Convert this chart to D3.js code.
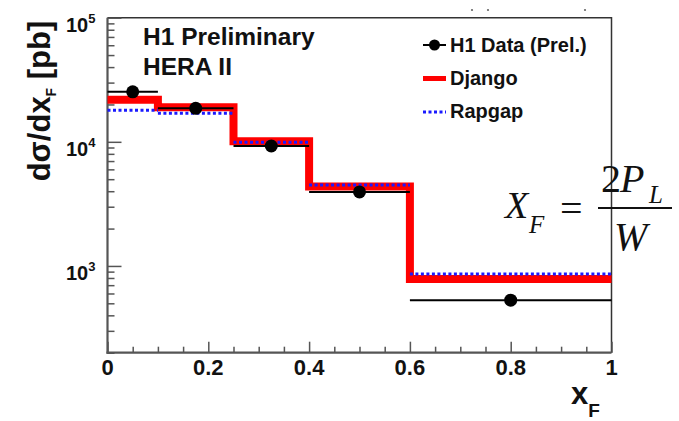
<!DOCTYPE html>
<html>
<head>
<meta charset="utf-8">
<script src="https://cdn.jsdelivr.net/npm/d3@7"></script>
<style>
  html, body { margin: 0; padding: 0; background: #fff; }
  svg { display: block; }
  .lab { font-family: "Liberation Sans", Arial, Helvetica, sans-serif; font-weight: bold; fill: #111; }
  .math { font-family: "Liberation Serif", "Times New Roman", serif; fill: #111; }
</style>
</head>
<body>
<svg id="chart" width="679" height="421"></svg>
<script>
// Bin edges in x_F
const binEdges = [0, 0.1, 0.25, 0.4, 0.6, 1.0];
// Data points: bin centres and measured cross sections (pb)
const dataX = [0.05, 0.175, 0.325, 0.5, 0.8];
const dataY = [25300, 18600, 9250, 3950, 530];
// Model predictions per bin (pb)
const djangoY = [21800, 19000, 10100, 4360, 785];
const rapgapY = [18000, 17000, 9900, 4480, 860];
// Axis tick labels
const xTickValues = [0, 0.2, 0.4, 0.6, 0.8, 1];
const xTickLabels = ["0", "0.2", "0.4", "0.6", "0.8", "1"];
const yMajorValues = [1e3, 1e4, 1e5];
const yMajorExponents = ["3", "4", "5"];

const svg = d3.select("#chart");
const plotLeft = 107.5, plotRight = 611.5, plotTop = 17.7, plotBottom = 352.7;

const x = d3.scaleLinear().domain([0, 1]).range([plotLeft, plotRight]);
const y = d3.scaleLog().domain([200, 1e5]).range([plotBottom, plotTop]);

// Frame: top and right edges
svg.append("path")
  .attr("d", `M${plotLeft},${plotTop}H${plotRight}V${plotBottom}`)
  .attr("fill", "none").attr("stroke", "#333").attr("stroke-width", 1.5);

// X axis with major and minor ticks
const xMinor = d3.range(0, 1.0001, 0.05).filter(v => !xTickValues.some(t => Math.abs(t - v) < 1e-6));
const gx = svg.append("g").attr("transform", `translate(0,${plotBottom})`);
gx.call(d3.axisBottom(x).tickValues(xTickValues).tickSize(-11).tickFormat(""))
  .call(g => g.select(".domain").remove());
gx.append("g").call(d3.axisBottom(x).tickValues(xMinor).tickSize(-6).tickFormat(""))
  .call(g => g.select(".domain").remove());
gx.selectAll("line").attr("stroke", "#555").attr("stroke-width", 1.5);
svg.append("line").attr("x1", plotLeft - 1).attr("x2", plotRight).attr("y1", plotBottom).attr("y2", plotBottom)
  .attr("stroke", "#555").attr("stroke-width", 2.2);

svg.append("g").selectAll("text").data(xTickValues).join("text")
  .attr("class", "lab")
  .attr("x", d => x(d)).attr("y", 375)
  .attr("text-anchor", "middle").attr("font-size", 22)
  .text((d, i) => xTickLabels[i]);

// Y axis with decade and minor ticks
const yAll = y.ticks();
const yMinor = yAll.filter(v => !yMajorValues.includes(v));
const gy = svg.append("g").attr("transform", `translate(${plotLeft},0)`);
gy.call(d3.axisLeft(y).tickValues(yMajorValues).tickSize(-14).tickFormat(""))
  .call(g => g.select(".domain").remove());
gy.append("g").call(d3.axisLeft(y).tickValues(yMinor).tickSize(-7).tickFormat(""))
  .call(g => g.select(".domain").remove());
gy.selectAll("line").attr("stroke", "#555").attr("stroke-width", 1.5);
svg.append("line").attr("x1", plotLeft).attr("x2", plotLeft).attr("y1", plotTop).attr("y2", plotBottom + 1)
  .attr("stroke", "#555").attr("stroke-width", 2.2);

const yl = svg.append("g").selectAll("text").data(yMajorValues).join("text")
  .attr("class", "lab").attr("font-size", 20)
  .attr("x", 66).attr("y", d => y(d) + 14);
yl.append("tspan").text("10");
yl.append("tspan").attr("font-size", 13).attr("dy", -9).text((d, i) => yMajorExponents[i]);

// Axis titles
const yt = svg.append("text").attr("class", "lab").attr("font-size", 31)
  .attr("text-anchor", "middle")
  .attr("transform", "translate(50,101) rotate(-90)");
yt.append("tspan").text("dσ/dx");
yt.append("tspan").attr("font-size", 14).attr("dy", 6).text("F");
yt.append("tspan").attr("dy", -6).text(" [pb]");

const xt = svg.append("text").attr("class", "lab").attr("font-size", 31).attr("x", 571).attr("y", 404);
xt.append("tspan").text("x");
xt.append("tspan").attr("font-size", 19).attr("dy", 13).text("F");

// Django: full step histogram
function stepPath(vals) {
  let d = `M${x(binEdges[0])},${y(vals[0])}`;
  vals.forEach((v, i) => {
    d += `V${y(v)}H${x(binEdges[i + 1])}`;
  });
  return d;
}

svg.append("path").attr("d", stepPath(djangoY))
  .attr("fill", "none").attr("stroke", "#ff0000").attr("stroke-width", 8)
  .attr("stroke-linejoin", "miter");

// Rapgap: dotted bin levels
svg.append("g").selectAll("line").data(rapgapY).join("line")
  .attr("x1", (d, i) => x(binEdges[i])).attr("x2", (d, i) => x(binEdges[i + 1]))
  .attr("y1", d => y(d)).attr("y2", d => y(d))
  .attr("stroke", "#1a1aff").attr("stroke-width", 3)
  .attr("stroke-dasharray", "3,2.5");

// Data points with bin-width horizontal bars
const pts = svg.append("g");
pts.selectAll("line").data(dataX).join("line")
  .attr("x1", (d, i) => x(binEdges[i])).attr("x2", (d, i) => x(binEdges[i + 1]))
  .attr("y1", (d, i) => y(dataY[i])).attr("y2", (d, i) => y(dataY[i]))
  .attr("stroke", "#000").attr("stroke-width", 2);
pts.selectAll("circle").data(dataX).join("circle")
  .attr("cx", d => x(d)).attr("cy", (d, i) => y(dataY[i]))
  .attr("r", 6.5).attr("fill", "#000");

// Header text
svg.append("text").attr("class", "lab").attr("font-size", 24.5).attr("x", 143).attr("y", 45).text("H1 Preliminary");
svg.append("text").attr("class", "lab").attr("font-size", 24.5).attr("x", 143).attr("y", 75).text("HERA II");

// Legend
const lg = svg.append("g");
lg.append("line").attr("x1", 423).attr("x2", 446).attr("y1", 45).attr("y2", 45)
  .attr("stroke", "#000").attr("stroke-width", 2);
lg.append("circle").attr("cx", 434.5).attr("cy", 45).attr("r", 5.5).attr("fill", "#000");
lg.append("text").attr("class", "lab").attr("font-size", 20).attr("x", 450).attr("y", 52).text("H1 Data (Prel.)");
lg.append("line").attr("x1", 423).attr("x2", 446).attr("y1", 78.5).attr("y2", 78.5)
  .attr("stroke", "#ff0000").attr("stroke-width", 5);
lg.append("text").attr("class", "lab").attr("font-size", 20).attr("x", 450).attr("y", 85).text("Django");
lg.append("line").attr("x1", 423).attr("x2", 446).attr("y1", 112).attr("y2", 112)
  .attr("stroke", "#1a1aff").attr("stroke-width", 3).attr("stroke-dasharray", "3,2.5");
lg.append("text").attr("class", "lab").attr("font-size", 20).attr("x", 450).attr("y", 118).text("Rapgap");

// Definition of Feynman x
const m = svg.append("g").attr("class", "math");
m.append("text").attr("x", 505).attr("y", 218).attr("font-size", 38).attr("font-style", "italic").text("X");
m.append("text").attr("x", 529).attr("y", 233).attr("font-size", 25).attr("font-style", "italic").text("F");
m.append("text").attr("x", 560).attr("y", 222).attr("font-size", 40).text("=");
m.append("line").attr("x1", 598).attr("x2", 672).attr("y1", 208).attr("y2", 208)
  .attr("stroke", "#111").attr("stroke-width", 1.8);
m.append("text").attr("x", 601).attr("y", 192).attr("font-size", 40).text("2");
m.append("text").attr("x", 620).attr("y", 192).attr("font-size", 40).attr("font-style", "italic").text("P");
m.append("text").attr("x", 649).attr("y", 203).attr("font-size", 25).attr("font-style", "italic").text("L");
m.append("text").attr("x", 614).attr("y", 250).attr("font-size", 40).attr("font-style", "italic").text("W");

// Stray marks along the top edge
svg.append("g").selectAll("circle").data([472, 488, 585]).join("circle")
  .attr("cx", d => d).attr("cy", 10).attr("r", 1.1).attr("fill", "#666");
</script>
</body>
</html>
